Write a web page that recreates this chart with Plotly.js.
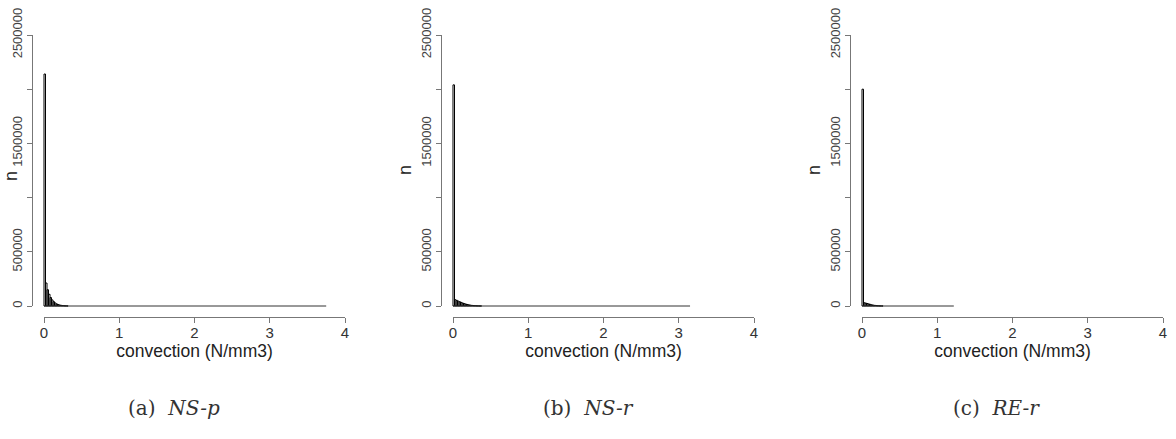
<!DOCTYPE html>
<html>
<head>
<meta charset="utf-8">
<script src="https://cdn.plot.ly/plotly-3.0.1.min.js"></script>
<style>html,body{margin:0;padding:0;background:#fff;}#chart{width:1176px;height:439px;}</style>
</head>
<body>
<div id="chart"></div>
<script>
// ---- data ----
const binStarts = [0, 0.02, 0.04, 0.06, 0.08, 0.10, 0.12, 0.14, 0.16, 0.18, 0.20, 0.22, 0.24, 0.26, 0.28, 0.30, 0.32, 0.34, 0.36, 0.38];
const binWidth = 0.02;
const nspCounts = [2140000, 212000, 150000, 108000, 78000, 56000, 40000, 28000, 19000, 13000, 9000, 6000, 4000, 2500, 1500, 800];
const nsrCounts = [2040000, 58000, 52000, 45000, 39000, 33000, 27000, 22000, 18000, 14000, 11000, 8000, 6000, 4000, 3000, 2000, 1200, 700, 400];
const rerCounts = [2000000, 30000, 27000, 23000, 19000, 15000, 11000, 8000, 6000, 4000, 2500, 1500, 800, 400];
const maxConvection = [3.75, 3.15, 1.22];
const captions = ['(a)&nbsp;&nbsp;<i>NS-p</i>', '(b)&nbsp;&nbsp;<i>NS-r</i>', '(c)&nbsp;&nbsp;<i>RE-r</i>'];
const xTickVals = [0, 1, 2, 3, 4];
const xTickText = ['0', '1', '2', '3', '4'];
const yTickVals = [0, 500000, 1000000, 1500000, 2000000, 2500000];
const yTickText = ['0', '500000', '', '1500000', '', '2500000'];
const xTitle = 'convection (N/mm3)';
const yTitle = 'n';

// ---- layout geometry (pixels) ----
const W = 1176, H = 439;
const px = v => v / W;
const py = v => 1 - v / H;
const panelX0 = [44, 453, 862];   // pixel of x=0
const spanX = 301;                // pixels for 4 units
const yZero = 306, yTop = 35;     // pixels of 0 and 2.5M
const xAxisY = 317;               // pixel row of x axis line
const yAxisGap = 12;              // y axis line left of x=0
const unitX = spanX / 4;
const unitY = (yZero - yTop) / 2500000;
const yTitleX = [0, 394, 803];
const yTitleY = [176, 170, 170];
const captionX = [174, 588, 996];

const sans = '"Liberation Sans", Arial, Helvetica, sans-serif';
const allCounts = [nspCounts, nsrCounts, rerCounts];
const traces = [];
const layout = {
  width: W, height: H,
  margin: {l: 0, r: 0, t: 0, b: 0},
  paper_bgcolor: '#fff',
  plot_bgcolor: 'rgba(0,0,0,0)',
  showlegend: false,
  font: {family: sans, color: '#222'},
  annotations: []
};

for (let p = 0; p < 3; p++) {
  const d = 2 * p + 1;  // data axes index
  const s = 2 * p + 2;  // display axes index
  const x0 = panelX0[p];
  const counts = allCounts[p];
  const xr = [-0.16, 4.16], yr = [-100000, 2600000];
  layout['xaxis' + d] = {
    domain: [px(x0 + xr[0] * unitX), px(x0 + xr[1] * unitX)],
    range: xr, visible: false, fixedrange: true, anchor: 'y' + d
  };
  layout['yaxis' + d] = {
    domain: [py(yZero - yr[0] * unitY), py(yZero - yr[1] * unitY)],
    range: yr, visible: false, fixedrange: true, anchor: 'x' + d
  };
  layout['xaxis' + s] = {
    domain: [px(x0), px(x0 + spanX)], range: [0, 4],
    anchor: 'free', position: py(xAxisY),
    showline: true, linecolor: '#777', linewidth: 1,
    ticks: 'outside', ticklen: 5, tickcolor: '#777', tickwidth: 1,
    tickvals: xTickVals, ticktext: xTickText, ticklabelstandoff: -3,
    tickfont: {family: sans, size: 15, color: '#333'},
    showgrid: false, zeroline: false, fixedrange: true,
    title: {text: xTitle, font: {family: sans, size: 17.5, color: '#222'}, standoff: 2}
  };
  layout['yaxis' + s] = {
    domain: [py(yZero), py(yTop)], range: [0, 2500000],
    anchor: 'free', position: px(x0 - yAxisGap),
    showline: true, linecolor: '#777', linewidth: 1,
    ticks: 'outside', ticklen: 5, tickcolor: '#777', tickwidth: 1,
    tickvals: yTickVals, ticktext: yTickText, tickangle: -90,
    tickfont: {family: sans, size: 13, color: '#444'},
    showgrid: false, zeroline: false, fixedrange: true
  };
  traces.push({type: 'scatter', mode: 'markers', x: [], y: [], xaxis: 'x' + s, yaxis: 'y' + s, hoverinfo: 'skip'});
  traces.push({
    type: 'bar', x: binStarts.slice(0, counts.length), y: counts,
    offset: 0, width: binWidth,
    marker: {color: 'rgba(255,255,255,0)', line: {color: '#000', width: 1}},
    xaxis: 'x' + d, yaxis: 'y' + d, hoverinfo: 'skip'
  });
  traces.push({
    type: 'scatter', mode: 'lines', x: [0, maxConvection[p]], y: [0, 0],
    line: {color: '#333', width: 1},
    xaxis: 'x' + d, yaxis: 'y' + d, hoverinfo: 'skip'
  });
  layout.annotations.push({
    xref: 'paper', yref: 'paper', x: px(yTitleX[p]), y: py(yTitleY[p]),
    text: yTitle, textangle: -90, showarrow: false, borderpad: 0,
    font: {family: sans, size: 18, color: '#222'}, xanchor: 'left', yanchor: 'middle'
  });
  layout.annotations.push({
    xref: 'paper', yref: 'paper', x: px(captionX[p]), y: py(408),
    text: captions[p], showarrow: false,
    font: {family: '"DejaVu Serif", serif', size: 20, color: '#333'},
    xanchor: 'center', yanchor: 'middle'
  });
}

Plotly.newPlot('chart', traces, layout, {staticPlot: true, displayModeBar: false});
</script>
</body>
</html>
